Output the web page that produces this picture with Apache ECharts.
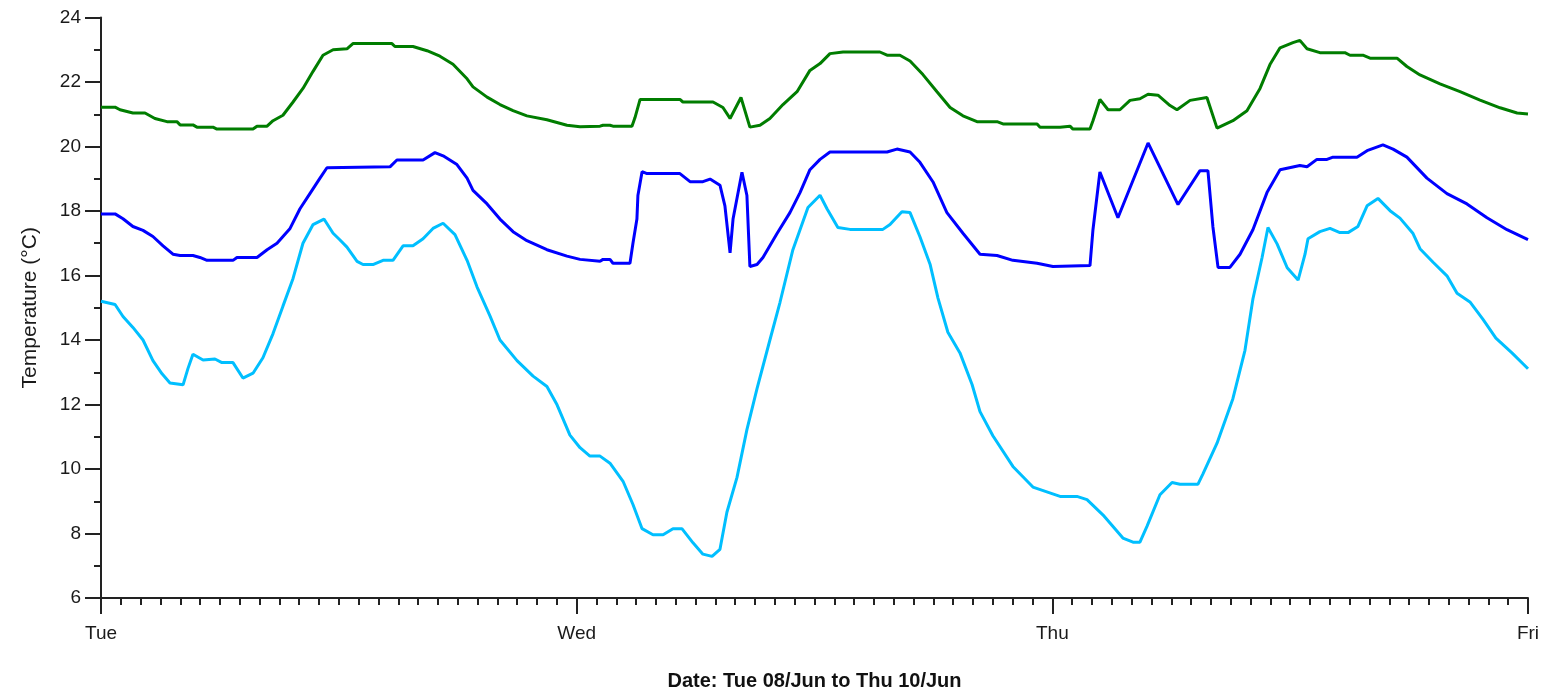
<!DOCTYPE html>
<html>
<head>
<meta charset="utf-8">
<script src="https://cdn.jsdelivr.net/npm/echarts@6/dist/echarts.min.js"></script>
<style>
  html, body { margin: 0; padding: 0; background: #fff; }
  #chart { width: 1549px; height: 692px; }
</style>
</head>
<body>
<div id="chart"></div>
<script>
// Day boundaries on the hour axis (0 = Tue 00:00)
const dayLabels = ['Tue', 'Wed', 'Thu', 'Fri'];
const yTicks = [6, 8, 10, 12, 14, 16, 18, 20, 22, 24];

// Upper trace (green): hours since Tue 00:00, temperature in °C
const greenHours = [0, 0.71, 0.96, 1.61, 2.22, 2.72, 3.33, 3.83, 3.99, 4.64, 4.84, 5.65, 5.85, 7.67, 7.87, 8.38, 8.68, 9.18, 9.69, 10.19, 10.7, 11.2, 11.71, 12.41, 12.71, 14.68, 14.83, 15.74, 16.45, 17.1, 17.76, 18.47, 18.77, 19.48, 20.13, 20.79, 21.49, 22.5, 23.51, 24.17, 25.18, 25.33, 25.68, 25.83, 26.79, 26.94, 27.2, 29.21, 29.36, 30.88, 31.38, 31.74, 32.29, 32.74, 33.25, 33.75, 34.41, 35.12, 35.77, 36.28, 36.78, 37.44, 39.3, 39.66, 40.31, 40.82, 41.47, 42.18, 42.84, 43.49, 44.2, 45.21, 45.51, 47.23, 47.38, 48.39, 48.89, 49.04, 49.9, 50.05, 50.4, 50.81, 51.41, 51.92, 52.42, 52.83, 53.33, 53.94, 54.29, 54.95, 55.8, 56.31, 57.11, 57.82, 58.48, 58.98, 59.49, 60.14, 60.49, 60.85, 61.5, 62.76, 63.02, 63.67, 64.03, 65.39, 65.89, 66.55, 67.56, 68.57, 69.58, 70.59, 71.45, 72];
const greenTemps = [21.22, 21.22, 21.14, 21.04, 21.04, 20.87, 20.77, 20.77, 20.67, 20.67, 20.6, 20.6, 20.54, 20.54, 20.63, 20.63, 20.8, 20.97, 21.38, 21.8, 22.33, 22.83, 23.0, 23.03, 23.19, 23.19, 23.1, 23.1, 22.97, 22.8, 22.55, 22.1, 21.85, 21.53, 21.3, 21.11, 20.95, 20.83, 20.66, 20.61, 20.63, 20.66, 20.66, 20.63, 20.63, 20.89, 21.46, 21.46, 21.38, 21.38, 21.21, 20.87, 21.52, 20.6, 20.66, 20.87, 21.3, 21.7, 22.36, 22.57, 22.88, 22.93, 22.93, 22.83, 22.83, 22.65, 22.23, 21.7, 21.21, 20.95, 20.77, 20.77, 20.7, 20.7, 20.6, 20.6, 20.63, 20.54, 20.54, 20.8, 21.46, 21.14, 21.14, 21.43, 21.48, 21.62, 21.59, 21.27, 21.14, 21.43, 21.52, 20.57, 20.8, 21.11, 21.8, 22.54, 23.06, 23.22, 23.29, 23.03, 22.91, 22.91, 22.83, 22.83, 22.74, 22.74, 22.48, 22.22, 21.94, 21.7, 21.44, 21.2, 21.04, 21.01];

// Middle trace (blue)
const blueHours = [0, 0.71, 1.11, 1.61, 2.12, 2.62, 3.13, 3.63, 3.99, 4.64, 4.99, 5.35, 6.66, 6.86, 7.87, 8.38, 8.88, 9.54, 10.04, 10.54, 11.05, 11.4, 14.58, 14.93, 16.25, 16.85, 17.26, 17.96, 18.47, 18.77, 19.48, 20.13, 20.79, 21.49, 22.5, 23.51, 24.17, 25.18, 25.33, 25.68, 25.83, 26.69, 26.84, 27.04, 27.09, 27.3, 27.55, 29.21, 29.72, 30.37, 30.73, 31.23, 31.48, 31.74, 31.89, 32.34, 32.59, 32.74, 33.1, 33.4, 34.11, 34.76, 35.27, 35.77, 36.28, 36.78, 39.66, 40.16, 40.82, 41.32, 41.98, 42.68, 43.49, 44.35, 45.21, 46.01, 47.23, 48.03, 49.9, 50.05, 50.4, 51.31, 52.83, 54.34, 55.45, 55.85, 56.1, 56.36, 56.96, 57.47, 58.12, 58.83, 59.49, 60.49, 60.85, 61.35, 61.86, 62.16, 63.37, 63.88, 64.68, 65.19, 65.89, 66.9, 67.91, 68.92, 69.93, 70.94, 72];
const blueTemps = [17.91, 17.91, 17.76, 17.52, 17.4, 17.21, 16.92, 16.66, 16.62, 16.62, 16.56, 16.47, 16.47, 16.56, 16.56, 16.8, 17.0, 17.46, 18.07, 18.54, 19.02, 19.34, 19.37, 19.58, 19.58, 19.81, 19.71, 19.44, 19.02, 18.64, 18.22, 17.75, 17.36, 17.08, 16.8, 16.6, 16.5, 16.44, 16.5, 16.5, 16.38, 16.38, 17.0, 17.75, 18.48, 19.22, 19.16, 19.16, 18.91, 18.91, 18.99, 18.8, 18.16, 16.7, 17.75, 19.2, 18.48, 16.28, 16.34, 16.56, 17.3, 17.95, 18.57, 19.28, 19.6, 19.83, 19.83, 19.92, 19.83, 19.51, 18.9, 17.95, 17.31, 16.66, 16.62, 16.47, 16.38, 16.28, 16.31, 17.42, 19.21, 17.79, 20.11, 18.2, 19.25, 19.25, 17.52, 16.25, 16.25, 16.66, 17.42, 18.57, 19.28, 19.41, 19.37, 19.6, 19.6, 19.67, 19.67, 19.87, 20.05, 19.92, 19.67, 19.02, 18.54, 18.22, 17.79, 17.42, 17.11];

// Lower trace (light blue)
const cyanHours = [0, 0.71, 1.11, 1.61, 2.12, 2.62, 3.08, 3.48, 4.14, 4.39, 4.64, 5.15, 5.75, 6.1, 6.66, 7.16, 7.67, 8.17, 8.68, 9.18, 9.69, 10.19, 10.7, 11.25, 11.71, 12.06, 12.41, 12.92, 13.22, 13.72, 14.23, 14.73, 15.24, 15.74, 16.25, 16.75, 17.26, 17.86, 18.47, 18.97, 19.63, 20.13, 20.99, 21.8, 22.5, 23.01, 23.66, 24.17, 24.67, 25.18, 25.68, 26.34, 26.84, 27.3, 27.85, 28.36, 28.86, 29.31, 29.87, 30.37, 30.83, 31.23, 31.58, 32.09, 32.59, 33.1, 33.75, 34.26, 34.91, 35.67, 36.28, 36.63, 37.18, 37.79, 39.45, 39.81, 40.41, 40.82, 41.32, 41.83, 42.23, 42.73, 43.34, 43.95, 44.35, 45.0, 46.01, 47.02, 48.39, 49.24, 49.75, 50.55, 51.56, 52.07, 52.42, 52.78, 53.43, 54.04, 54.44, 55.35, 55.6, 56.31, 57.11, 57.72, 58.12, 58.58, 58.88, 59.34, 59.85, 60.4, 60.75, 60.9, 61.5, 62.01, 62.51, 62.92, 63.42, 63.88, 64.43, 65.04, 65.54, 66.2, 66.55, 67.21, 67.91, 68.42, 69.07, 69.73, 70.38, 71.19, 72];
const cyanTemps = [15.2, 15.1, 14.73, 14.39, 14.0, 13.36, 12.95, 12.67, 12.61, 13.12, 13.56, 13.38, 13.41, 13.3, 13.3, 12.82, 12.97, 13.45, 14.2, 15.05, 15.91, 17.0, 17.58, 17.75, 17.31, 17.1, 16.88, 16.44, 16.34, 16.34, 16.47, 16.47, 16.92, 16.92, 17.14, 17.46, 17.62, 17.27, 16.47, 15.65, 14.74, 14.0, 13.36, 12.88, 12.56, 11.99, 11.05, 10.66, 10.4, 10.4, 10.18, 9.62, 8.9, 8.15, 7.96, 7.96, 8.15, 8.15, 7.71, 7.36, 7.29, 7.51, 8.66, 9.74, 11.22, 12.49, 14.0, 15.17, 16.8, 18.11, 18.49, 18.07, 17.49, 17.43, 17.43, 17.58, 17.98, 17.95, 17.2, 16.35, 15.3, 14.24, 13.6, 12.62, 11.78, 11.03, 10.08, 9.44, 9.15, 9.15, 9.05, 8.58, 7.86, 7.73, 7.73, 8.23, 9.2, 9.58, 9.53, 9.53, 9.85, 10.8, 12.18, 13.68, 15.27, 16.55, 17.49, 16.98, 16.24, 15.86, 16.66, 17.14, 17.36, 17.46, 17.33, 17.33, 17.52, 18.16, 18.39, 18.01, 17.78, 17.3, 16.83, 16.41, 15.99, 15.45, 15.18, 14.64, 14.06, 13.6, 13.11];

const zip = (xs, ys) => xs.map((x, i) => [x, ys[i]]);

const chart = echarts.init(document.getElementById('chart'), null, { renderer: 'canvas' });

const lineSeries = (name, color, xs, ys) => ({
  name,
  type: 'line',
  data: zip(xs, ys),
  showSymbol: false,
  symbol: 'none',
  lineStyle: { color, width: 3 },
  itemStyle: { color },
  animation: false
});

const fontFamily = 'Liberation Sans, Arial, sans-serif';
const axisFont = { fontFamily, fontSize: 19, color: '#1a1a1a' };

chart.setOption({
  backgroundColor: '#ffffff',
  animation: false,
  grid: { left: 101, right: 21, top: 17.5, bottom: 94, containLabel: false, outerBoundsMode: 'none' },
  xAxis: {
    type: 'value',
    min: 0,
    max: 72,
    interval: 24,
    name: 'Date: Tue 08/Jun to Thu 10/Jun',
    nameLocation: 'middle',
    nameGap: 73,
    nameTextStyle: { fontFamily, fontSize: 20, fontWeight: 'bold', color: '#111' },
    axisLine: { show: true, lineStyle: { color: '#222', width: 2 } },
    axisTick: { show: true, length: 16, lineStyle: { color: '#222', width: 2 } },
    minorTick: { show: true, splitNumber: 24, length: 7, lineStyle: { color: '#222', width: 2 } },
    splitLine: { show: false },
    minorSplitLine: { show: false },
    axisLabel: Object.assign({
      margin: 26,
      formatter: v => dayLabels[Math.round(v / 24)] || ''
    }, axisFont)
  },
  yAxis: {
    type: 'value',
    min: yTicks[0],
    max: yTicks[yTicks.length - 1],
    interval: 2,
    name: 'Temperature (°C)',
    nameLocation: 'middle',
    nameGap: 60,
    nameRotate: 90,
    nameTextStyle: { fontFamily, fontSize: 21, color: '#1a1a1a' },
    axisLine: { show: true, lineStyle: { color: '#222', width: 2 } },
    axisTick: { show: true, length: 16, lineStyle: { color: '#222', width: 2 } },
    minorTick: { show: true, splitNumber: 2, length: 7, lineStyle: { color: '#222', width: 2 } },
    splitLine: { show: false },
    minorSplitLine: { show: false },
    axisLabel: Object.assign({ margin: 20 }, axisFont)
  },
  series: [
    lineSeries('Upper', '#007d00', greenHours, greenTemps),
    lineSeries('Middle', '#0000ff', blueHours, blueTemps),
    lineSeries('Lower', '#00bfff', cyanHours, cyanTemps)
  ]
});
</script>
</body>
</html>
